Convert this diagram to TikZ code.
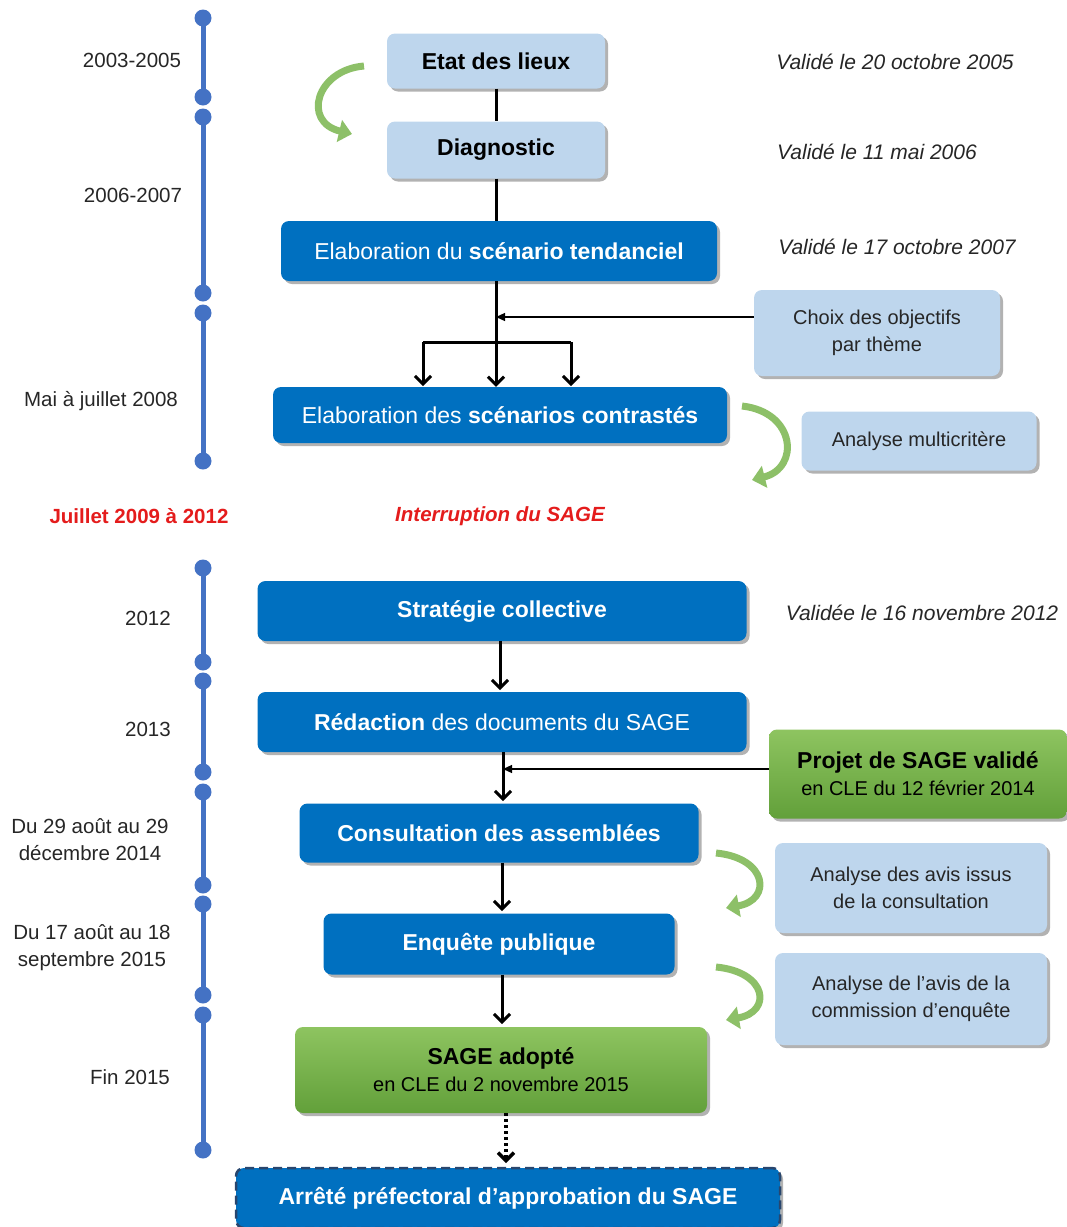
\documentclass[tikz,border=0pt]{standalone}
\usepackage{fontspec}
\setmainfont{Liberation Sans}
\usetikzlibrary{arrows.meta}
\usetikzlibrary{shadows}
\usetikzlibrary{calc}
\usepackage{xcolor}

\definecolor{darkbl}{RGB}{0,112,192}
\definecolor{lightbl}{RGB}{190,214,237}
\definecolor{grtop}{RGB}{142,196,96}
\definecolor{grbot}{RGB}{98,160,58}
\definecolor{tlblue}{RGB}{68,114,196}
\definecolor{curvegr}{RGB}{141,192,104}
\definecolor{redtxt}{RGB}{228,28,28}
\definecolor{txtgray}{RGB}{38,38,38}
\definecolor{dashbl}{RGB}{40,70,110}

\tikzset{
    stage/.style={rounded corners=8pt, minimum height=58pt, inner sep=2pt,
        drop shadow={shadow xshift=3pt, shadow yshift=-3pt, opacity=0.3, fill=black}},
    lightbox/.style={stage, fill=lightbl, text=black, font=\fontsize{23}{27}\selectfont\bfseries},
    notebox/.style={stage, fill=lightbl, text=txtgray, align=center, font=\fontsize{20}{27}\selectfont},
    darkbox/.style={stage, fill=darkbl, text=white, minimum height=60pt, font=\fontsize{23}{27}\selectfont},
    greenbox/.style={stage, top color=grtop, bottom color=grbot, text=black, align=center},
    datetxt/.style={text=txtgray, font=\fontsize{21}{24}\selectfont\itshape},
    yeartxt/.style={text=txtgray, align=center, font=\fontsize{20.5}{27}\selectfont},
    tline/.style={tlblue, line width=5pt},
    tdot/.style={fill=tlblue},
    flow/.style={line width=3pt, -{Straight Barb[length=8pt, width=16pt]}},
    feed/.style={line width=1.2pt, -{Triangle[length=9pt, width=8pt]}},
    loopback/.style={curvegr, line width=7pt, -{Triangle[length=13pt, width=22pt]}}
}

\begin{document}
\begin{tikzpicture}[x=1pt, y=-1pt]
        \useasboundingbox (0,0) rectangle (1067,1227);

        % timeline
        \coordinate (A1) at (203,18);
        \coordinate (A2) at (203,97);
        \coordinate (B1) at (203,117);
        \coordinate (B2) at (203,293);
        \coordinate (C1) at (203,313);
        \coordinate (C2) at (203,461);
        \coordinate (D1) at (203,568);
        \coordinate (D2) at (203,662);
        \coordinate (E1) at (203,681);
        \coordinate (E2) at (203,772);
        \coordinate (F1) at (203,792);
        \coordinate (F2) at (203,885);
        \coordinate (G1) at (203,904);
        \coordinate (G2) at (203,995);
        \coordinate (H1) at (203,1015);
        \coordinate (H2) at (203,1150);

        \foreach \p in {A,B,C,D,E,F,G,H} {
            \draw[tline] (\p1) -- (\p2);
            \fill[tdot] (\p1) circle (8.5);
            \fill[tdot] (\p2) circle (8.5);
        }

        \node[yeartxt] (yA) at (132,60) {2003-2005};
        \node[yeartxt] (yB) at (133,195) {2006-2007};
        \node[yeartxt] (yC) at (101,401) {Mai à juillet 2008};
        \node[yeartxt] (yD) at (148,618) {2012};
        \node[yeartxt] (yE) at (148,729) {2013};
        \node[yeartxt] (yF) at (90,840) {Du 29 août au 29\\décembre 2014};
        \node[yeartxt] (yG) at (92,948) {Du 17 août au 18\\septembre 2015};
        \node[yeartxt] (yH) at (130,1077) {Fin 2015};

        \node[text=redtxt, font=\fontsize{20.5}{24}\selectfont\bfseries] (gapyr) at (139,516) {Juillet 2009 à 2012};
        \node[text=redtxt, font=\fontsize{20.5}{24}\selectfont\bfseries\itshape] (gap) at (500,516) {Interruption du SAGE};

        % stages
        \node[lightbox, minimum width=218pt, minimum height=55pt] (etat) at (496,61) {Etat des lieux};
        \node[lightbox, minimum width=218pt, minimum height=57pt] (diag) at (496,150) {Diagnostic};
        \node[darkbox, minimum width=436pt] (tend) at (499,251) {Elaboration du \textbf{scénario tendanciel}};
        \node[notebox, minimum width=246pt, minimum height=86pt] (choix) at (877,333) {Choix des objectifs\\par thème};
        \node[darkbox, minimum width=454pt, minimum height=56pt] (contr) at (500,415) {Elaboration des \textbf{scénarios contrastés}};
        \node[notebox, minimum width=235pt, minimum height=59pt] (multi) at (919,441) {Analyse multicritère};

        \node[darkbox, minimum width=489pt] (strat) at (502,611) {\bfseries Stratégie collective};
        \node[darkbox, minimum width=489pt] (redac) at (502,722) {\textbf{Rédaction} des documents du SAGE};
        \node[greenbox, minimum width=298pt, minimum height=89pt, font=\fontsize{20}{27}\selectfont] (projet) at (918,774)
            {{\fontsize{23}{27}\selectfont\bfseries Projet de SAGE validé}\\en CLE du 12 février 2014};
        \node[darkbox, minimum width=399pt, minimum height=59pt] (consult) at (499,833) {\bfseries Consultation des assemblées};
        \node[notebox, minimum width=272pt, minimum height=90pt] (avis) at (911,888) {Analyse des avis issus\\de la consultation};
        \node[darkbox, minimum width=351pt, minimum height=61pt] (enq) at (499,944) {\bfseries Enquête publique};
        \node[notebox, minimum width=272pt, minimum height=92pt] (commis) at (911,999) {Analyse de l’avis de la\\commission d’enquête};
        \node[greenbox, minimum width=412pt, minimum height=86pt, font=\fontsize{20}{27}\selectfont] (adopt) at (501,1070)
            {{\fontsize{23}{27}\selectfont\bfseries SAGE adopté}\\en CLE du 2 novembre 2015};
        \node[darkbox, minimum width=544pt, draw=dashbl, dash pattern=on 9pt off 5pt, line width=2.5pt] (arrete) at (508,1198)
            {\bfseries Arrêté préfectoral d’approbation du SAGE};

        % dates
        \node[datetxt] (dA) at (895,62) {Validé le 20 octobre 2005};
        \node[datetxt] (dB) at (877,152) {Validé le 11 mai 2006};
        \node[datetxt] (dC) at (897,247) {Validé le 17 octobre 2007};
        \node[datetxt] (dD) at (922,613) {Validée le 16 novembre 2012};

        % links
        \draw[line width=3pt] (etat) -- (diag);
        \draw[line width=3pt] (diag.south) -- (diag.south |- tend.north);
        \coordinate (split) at (diag.south |- 0,342);
        \coordinate (joinC) at (diag.south |- 0,317);
        \draw[line width=3pt] (diag.south |- tend.south) -- (split);
        \draw[line width=3pt] (423,342) -- (571,342);
        \draw[flow] (split) -- (split |- contr.north);
        \draw[flow] (423,342) -- (423,386);
        \draw[flow] (571,342) -- (571,386);
        \draw[feed] (choix.west |- joinC) -- (joinC);

        \draw[flow] (strat.south -| 500,0) -- (500,690);
        \coordinate (joinP) at (503,769);
        \draw[flow] (redac.south -| 503,0) -- (503,801);
        \draw[feed] (projet.west |- joinP) -- (joinP);
        \draw[flow] (consult.south -| 502,0) -- (502,911);
        \draw[flow] (enq.south -| 502,0) -- (502,1024);
        \draw[line width=3.5pt, dash pattern=on 3pt off 3pt, -{Straight Barb[length=8pt, width=16pt]}] (adopt.south -| 506,0) -- (506,1163);

        % green loops
        \draw[loopback] (364,66) .. controls (316,70) and (302,122) .. (352,134);
        \draw[loopback] (742,406) .. controls (796,412) and (800,468) .. (752,480);
        \draw[loopback] (716,853) .. controls (768,858) and (772,900) .. (726,908);
        \draw[loopback] (716,967) .. controls (768,972) and (772,1012) .. (726,1020);

    \end{tikzpicture}
\end{document}
